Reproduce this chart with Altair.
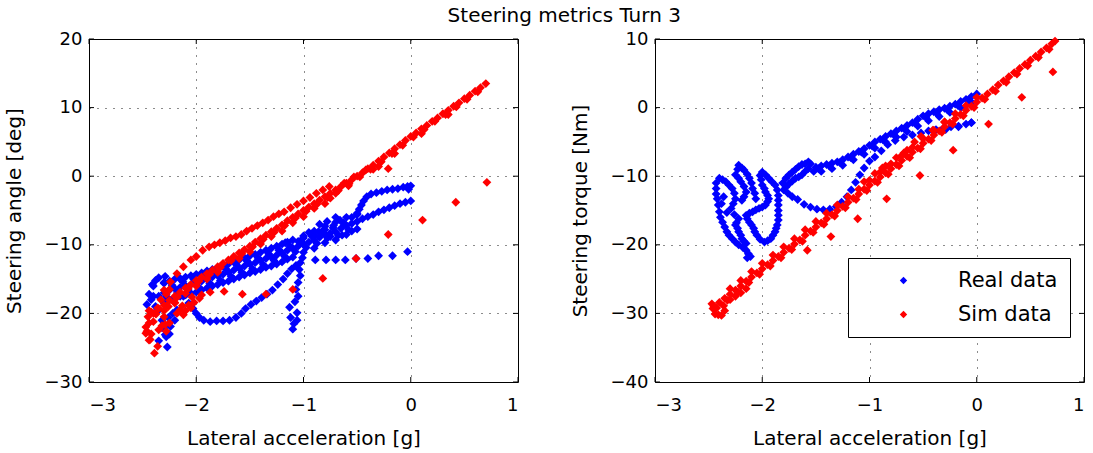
import altair as alt
import pandas as pd

# ---------------- data ----------------
# LEFT panel: steering angle [deg] vs lateral acceleration [g]
left_sim_line = [
    [-2.40, -20.0], [-2.35, -19.3], [-2.30, -18.8], [-2.25, -18.1], [-2.20, -17.5], [-2.15, -16.9],
    [-2.10, -16.3], [-2.05, -15.8], [-2.00, -15.2], [-1.95, -14.7], [-1.90, -14.2], [-1.85, -13.7],
    [-1.80, -13.2], [-1.75, -12.7], [-1.70, -12.2], [-1.65, -11.7], [-1.60, -11.2], [-1.55, -10.7],
    [-1.50, -10.2], [-1.45, -9.6], [-1.40, -9.1], [-1.35, -8.6], [-1.30, -8.1], [-1.25, -7.6],
    [-1.20, -7.1], [-1.15, -6.5], [-1.10, -6.0], [-1.05, -5.5], [-1.00, -5.0], [-0.95, -4.5],
    [-0.90, -4.0], [-0.85, -3.5], [-0.80, -3.0], [-0.75, -2.5], [-0.70, -2.0], [-0.65, -1.5],
    [-0.60, -1.0], [-0.55, -0.5], [-0.50, 0.0], [-0.45, 0.5], [-0.40, 1.1], [-0.35, 1.6],
    [-0.30, 2.2], [-0.25, 2.8], [-0.20, 3.4], [-0.15, 4.0], [-0.10, 4.6], [-0.05, 5.2],
    [0.00, 5.8], [0.05, 6.3], [0.10, 6.9], [0.15, 7.4], [0.20, 8.0], [0.25, 8.5],
    [0.30, 9.1], [0.35, 9.6], [0.40, 10.2], [0.45, 10.7], [0.50, 11.3], [0.55, 11.8],
    [0.60, 12.4], [0.65, 12.9], [0.70, 13.5],
    [-2.20, -18.4], [-2.00, -16.0], [-1.80, -14.0], [-1.60, -12.0], [-1.40, -9.9], [-1.20, -8.0],
    [-1.00, -5.9], [-0.80, -4.0], [-0.62, -1.0], [-0.53, -0.1], [-0.42, 0.9], [-0.70, -2.5],
    [-0.75, -3.2], [-1.10, -6.8], [-1.30, -8.8], [-1.50, -11.0], [-1.90, -15.0], [-2.10, -17.1],
    [-0.90, -4.7], [-0.58, -1.4], [-0.35, 1.0], [-0.15, 3.3], [0.10, 6.2], [0.35, 9.0],
]
left_sim_line_fill = [
    [-2.375, -20.1], [-2.275, -18.9], [-2.175, -17.6], [-2.075, -16.4], [-1.975, -15.3], [-1.875, -14.3],
    [-1.775, -13.3], [-1.675, -12.3], [-1.575, -11.3], [-1.475, -10.3], [-1.375, -9.2], [-1.275, -8.2],
    [-1.175, -7.2], [-1.075, -6.1], [-0.975, -5.1], [-0.875, -4.1], [-0.775, -3.1], [-0.675, -2.1],
    [-0.575, -1.1], [-0.475, -0.1], [-0.375, 1.0], [-0.275, 2.1], [-0.175, 3.3], [-0.075, 4.5],
    [0.025, 5.7], [0.125, 6.8], [0.225, 8.0], [0.325, 9.0], [0.425, 10.1], [0.525, 11.2],
    [0.625, 12.3],
]
left_sim_branch = [
    [-2.30, -16.6], [-2.24, -15.4], [-2.18, -14.2], [-2.12, -13.2], [-2.05, -12.2], [-2.00, -11.7],
    [-1.94, -10.8], [-1.88, -10.3], [-1.83, -10.0], [-1.78, -9.7], [-1.73, -9.4], [-1.68, -9.0],
    [-1.63, -8.8], [-1.58, -8.5], [-1.53, -8.0], [-1.48, -7.6], [-1.43, -7.2], [-1.38, -6.8],
    [-1.33, -6.4], [-1.28, -5.9], [-1.23, -5.5], [-1.18, -5.2], [-1.12, -4.6], [-1.06, -4.1],
    [-1.00, -3.6], [-0.94, -3.1], [-0.88, -2.5], [-0.82, -2.0], [-0.76, -1.5],
]
left_sim_cluster = [
    [-2.47, -22.9], [-2.44, -23.9], [-2.39, -25.8], [-2.36, -24.8], [-2.42, -23.0], [-2.47, -22.0],
    [-2.35, -22.4], [-2.25, -21.4], [-2.38, -20.0], [-2.44, -21.4], [-2.42, -19.8], [-2.45, -20.5],
    [-2.30, -20.5], [-2.32, -21.8], [-2.28, -22.6], [-2.40, -21.2], [-2.36, -19.2], [-2.33, -18.0],
    [-2.28, -17.2], [-2.25, -16.5], [-2.20, -18.5], [-2.15, -19.5], [-2.10, -19.6], [-2.07, -18.8],
    [-2.05, -19.2], [-2.02, -18.4], [-1.97, -17.8], [-1.95, -17.3], [-2.12, -20.2], [-2.18, -20.0],
    [-2.30, -19.6], [-2.26, -19.0], [-2.44, -19.6], [-2.46, -22.6], [-2.43, -23.8], [-2.13, -18.9],
    [-2.04, -17.6], [-2.29, -21.6],
]
left_sim_scatter = [
    [-1.87, -16.9], [-1.74, -16.8], [-1.57, -17.2], [-1.35, -17.2], [-1.10, -16.5], [-0.82, -14.9],
    [-0.51, -12.0], [-0.21, -8.5], [0.11, -6.4], [0.42, -3.8], [0.71, -0.9],
    [-0.30, 1.4], [-0.21, 1.1],
]

left_real_band = [
    [-2.35, -17.5], [-2.30, -17.0], [-2.25, -16.6], [-2.20, -16.4], [-2.15, -16.2], [-2.10, -16.0],
    [-2.05, -15.8], [-2.00, -15.6], [-1.95, -15.3], [-1.90, -15.0], [-1.85, -14.7], [-1.80, -14.5],
    [-1.75, -14.3], [-1.70, -14.0], [-1.65, -13.7], [-1.60, -13.4], [-1.55, -13.1], [-1.50, -12.8],
    [-1.45, -12.6], [-1.40, -12.3], [-1.35, -12.0], [-1.30, -11.8], [-1.25, -11.5], [-1.20, -11.2],
    [-1.15, -10.8], [-1.10, -10.5], [-1.05, -10.2], [-1.00, -9.9], [-0.95, -9.6], [-0.90, -9.3],
    [-0.85, -8.9], [-0.80, -8.5], [-0.75, -8.3], [-0.70, -8.1], [-0.65, -7.6], [-0.60, -7.2],
    [-0.55, -6.9], [-0.50, -6.6], [-0.45, -6.2], [-0.40, -5.9], [-0.35, -5.6], [-0.30, -5.2],
    [-0.25, -4.9], [-0.20, -4.6], [-0.15, -4.3], [-0.10, -4.0], [-0.05, -3.8], [0.00, -3.6],
]
left_real_band_up = [
    [-2.30, -15.6], [-2.20, -15.0], [-2.10, -14.7], [-2.00, -14.3], [-1.90, -13.8], [-1.80, -13.3],
    [-1.70, -12.8], [-1.60, -12.2], [-1.50, -11.6], [-1.40, -11.1], [-1.30, -10.5], [-1.20, -9.9],
    [-1.10, -9.3], [-1.00, -8.7], [-0.90, -8.0], [-0.80, -7.3], [-0.70, -6.7], [-0.60, -6.0],
    [-0.50, -5.6], [-2.41, -15.8], [-2.35, -14.8], [-2.29, -14.6],
    [-2.25, -15.3], [-2.15, -14.9], [-2.05, -14.5], [-1.95, -14.1], [-1.85, -13.6], [-1.75, -13.1],
    [-1.65, -12.5], [-1.55, -11.9], [-1.45, -11.4], [-1.35, -10.8], [-1.25, -10.2], [-1.15, -9.6],
]
left_real_band_mid = [
    [-2.225, -15.9], [-2.125, -15.4], [-2.025, -15.0], [-1.925, -14.5], [-1.825, -14.0], [-1.725, -13.5],
    [-1.625, -12.9], [-1.525, -12.4], [-1.425, -11.9], [-1.325, -11.3], [-1.225, -10.8], [-1.125, -10.2],
    [-1.025, -9.4], [-0.925, -8.7], [-0.825, -8.0], [-0.725, -7.5], [-0.625, -6.8],
    [-2.275, -17.6], [-2.175, -17.0], [-2.075, -16.6], [-1.975, -16.2], [-1.875, -15.6], [-1.775, -15.2],
    [-1.675, -14.6], [-1.575, -14.0], [-1.475, -13.5], [-1.375, -12.9], [-1.275, -12.3], [-1.175, -11.7],
    [-1.075, -11.0], [-0.975, -10.4], [-0.875, -9.8], [-0.775, -9.0], [-0.675, -8.6],
]
left_real_band_low = [
    [-2.30, -18.4], [-2.20, -17.7], [-2.10, -17.3], [-2.00, -16.9], [-1.90, -16.3], [-1.80, -15.8],
    [-1.70, -15.3], [-1.60, -14.7], [-1.50, -14.1], [-1.40, -13.6], [-1.30, -13.1], [-1.20, -12.5],
    [-1.10, -11.8], [-1.00, -11.1], [-0.90, -10.5], [-0.80, -9.7], [-0.70, -9.3], [-0.60, -8.5],
    [-0.50, -7.7], [-2.44, -17.2], [-2.46, -18.7],
    [-2.25, -18.0], [-2.15, -17.5], [-2.05, -17.1], [-1.95, -16.6], [-1.85, -16.0], [-1.75, -15.5],
    [-1.65, -15.0], [-1.55, -14.4], [-1.45, -13.9], [-1.35, -13.3], [-1.25, -12.8], [-1.15, -12.1],
]
left_real_blob = [
    [-0.85, -7.0], [-0.78, -6.6], [-0.70, -6.0], [-0.66, -6.4], [-0.62, -7.0], [-0.58, -7.8],
    [-0.75, -8.8], [-0.90, -8.6], [-1.00, -9.0], [-1.17, -9.7], [-1.23, -10.8], [-0.86, -8.1],
    [-0.95, -8.2], [-0.80, -7.8], [-0.72, -7.2], [-0.64, -8.6], [-0.55, -8.0], [-1.05, -9.5],
]
left_real_loop_up = [
    [-0.55, -6.0], [-0.50, -5.4], [-0.48, -4.8], [-0.46, -4.2], [-0.44, -3.6], [-0.41, -3.0],
    [-0.37, -2.6], [-0.32, -2.4], [-0.27, -2.2], [-0.22, -2.0], [-0.17, -1.9], [-0.12, -1.8],
    [-0.07, -1.6], [-0.03, -1.5], [0.00, -1.4], [-0.02, -1.9],
]
left_real_dotted = [
    [-1.01, -11.9], [-0.89, -12.2], [-0.79, -12.2], [-0.70, -12.2], [-0.61, -12.2], [-0.51, -12.0],
    [-0.40, -12.0], [-0.30, -11.6], [-0.17, -11.6], [-0.03, -11.0],
]
left_real_lower_loop = [
    [-2.12, -17.5], [-2.07, -18.5], [-2.03, -19.3], [-2.00, -20.0], [-1.97, -20.6], [-1.93, -21.0],
    [-1.87, -21.2], [-1.81, -21.1], [-1.75, -21.1], [-1.69, -21.0], [-1.63, -20.6], [-1.58, -20.0],
    [-1.54, -19.3], [-1.49, -18.7], [-1.44, -18.2], [-1.39, -17.7], [-1.34, -17.2], [-1.29, -16.6],
    [-1.24, -15.8], [-1.19, -15.0], [-1.15, -14.2], [-1.11, -13.5], [-1.07, -13.0], [-1.03, -12.6],
]
left_real_tail = [
    [-1.04, -13.6], [-1.03, -14.5], [-1.05, -15.5], [-1.07, -16.5], [-1.05, -17.5], [-1.08, -18.3],
    [-1.13, -19.1], [-1.06, -19.9], [-1.12, -20.6], [-1.09, -21.5], [-1.10, -22.3], [-1.06, -21.0],
]
left_real_cluster = [
    [-2.32, -21.0], [-2.28, -23.4], [-2.27, -24.9], [-2.24, -21.9], [-2.22, -20.0], [-2.25, -23.0],
    [-2.30, -22.2], [-2.26, -20.6], [-2.20, -21.0], [-2.18, -19.5], [-2.38, -19.0], [-2.40, -17.5],
    [-2.40, -16.0], [-2.38, -15.2], [-2.30, -15.5], [-2.15, -15.0], [-2.10, -17.3], [-2.20, -17.8],
    [-2.30, -18.5], [-2.35, -19.5], [-2.42, -18.0], [-2.32, -22.1], [-2.29, -23.1], [-2.35, -24.0],
]

# RIGHT panel: steering torque [Nm] vs lateral acceleration [g]
right_sim_line = [
    [-2.45, -29.0], [-2.40, -28.4], [-2.35, -27.8], [-2.30, -27.2], [-2.25, -26.6], [-2.20, -26.0],
    [-2.15, -25.3], [-2.10, -24.7], [-2.05, -24.1], [-2.00, -23.5], [-1.95, -22.9], [-1.90, -22.3],
    [-1.85, -21.7], [-1.80, -21.1], [-1.75, -20.5], [-1.70, -19.9], [-1.65, -19.3], [-1.60, -18.6],
    [-1.55, -18.0], [-1.50, -17.4], [-1.45, -16.8], [-1.40, -16.2], [-1.35, -15.6], [-1.30, -15.0],
    [-1.25, -14.4], [-1.20, -13.8], [-1.15, -13.2], [-1.10, -12.6], [-1.05, -11.9], [-1.00, -11.3],
    [-0.95, -10.7], [-0.90, -10.1], [-0.85, -9.5], [-0.80, -8.9], [-0.75, -8.3], [-0.70, -7.7],
    [-0.65, -7.1], [-0.60, -6.5], [-0.55, -5.9], [-0.50, -5.2], [-0.45, -4.6], [-0.40, -4.0],
    [-0.35, -3.4], [-0.30, -2.8], [-0.25, -2.2], [-0.20, -1.6], [-0.15, -1.0], [-0.10, -0.4],
    [-0.05, 0.2], [0.00, 0.8], [0.05, 1.4], [0.10, 2.0], [0.15, 2.6], [0.20, 3.3],
    [0.25, 3.9], [0.30, 4.5], [0.35, 5.1], [0.40, 5.7], [0.45, 6.3], [0.50, 6.9],
    [0.55, 7.5], [0.60, 8.1], [0.65, 8.7], [0.70, 9.3], [0.73, 9.7],
    [-2.30, -26.4], [-2.20, -25.2], [-2.10, -23.9], [-2.00, -22.7], [-1.90, -21.5], [-1.80, -20.3],
    [-1.70, -19.1], [-1.60, -17.8], [-1.50, -16.6], [-1.40, -15.4], [-1.30, -14.2], [-1.20, -13.0],
    [-1.10, -11.9], [-1.00, -10.6], [-0.90, -9.4], [-0.80, -8.2], [-0.70, -7.0], [-0.60, -5.8],
    [-0.50, -4.5], [-0.40, -3.3], [-0.30, -2.1], [-0.20, -0.9], [-0.10, 0.3], [0.00, 1.5],
]
right_sim_line_fill = [
    [-2.425, -29.2], [-2.325, -28.1], [-2.225, -26.9], [-2.125, -25.5], [-2.025, -24.3], [-1.925, -23.1],
    [-1.825, -21.9], [-1.725, -20.7], [-1.625, -19.5], [-1.525, -18.2], [-1.425, -17.0], [-1.325, -15.8],
    [-1.225, -14.6], [-1.125, -13.4], [-1.025, -12.1], [-0.925, -10.9], [-0.825, -9.7], [-0.725, -8.5],
    [-0.625, -7.3], [-0.525, -6.0], [-0.425, -4.8], [-0.325, -3.6], [-0.225, -2.4], [-0.125, -1.2],
    [-0.025, 0.0], [0.075, 1.2], [0.175, 2.4], [0.275, 3.7], [0.375, 4.9], [0.475, 6.1],
    [0.575, 7.3], [0.675, 8.5],
]
right_sim_cluster = [
    [-2.44, -30.1], [-2.38, -30.3], [-2.35, -29.6], [-2.46, -29.3], [-2.41, -30.2], [-2.47, -28.6],
    [-2.36, -28.9], [-2.30, -28.0], [-2.25, -27.5], [-2.20, -27.0], [-2.15, -26.4],
]
right_sim_upper = [
    [-1.05, -10.8], [-0.95, -9.6], [-0.88, -8.8], [-0.85, -8.5], [-0.75, -7.3], [-0.68, -6.6],
    [-0.65, -6.2], [-0.58, -5.0], [-0.52, -4.2], [-0.41, -3.3], [-0.30, -2.1],
]
right_sim_scatter = [
    [-1.58, -20.8], [-1.36, -18.8], [-1.11, -16.2], [-0.84, -13.3], [-0.53, -9.9], [-0.22, -6.2],
    [0.11, -2.4], [0.42, 1.5], [0.71, 5.2],
]

right_real_arm = [
    [-1.50, -8.7], [-1.45, -8.5], [-1.40, -8.3], [-1.35, -8.1], [-1.30, -7.9], [-1.25, -7.6],
    [-1.20, -7.2], [-1.15, -6.8], [-1.10, -6.4], [-1.05, -6.0], [-1.00, -5.5], [-0.95, -5.0],
    [-0.90, -4.6], [-0.85, -4.2], [-0.80, -3.8], [-0.75, -3.4], [-0.70, -3.0], [-0.65, -2.6],
    [-0.60, -2.2], [-0.55, -1.7], [-0.50, -1.2], [-0.45, -0.9], [-0.40, -0.6], [-0.35, -0.3],
    [-0.30, -0.1], [-0.25, 0.2], [-0.20, 0.5], [-0.15, 0.9], [-0.10, 1.2], [-0.05, 1.6],
    [0.00, 2.0],
    [-1.45, -9.3], [-1.35, -8.9], [-1.25, -8.4], [-1.15, -7.6], [-1.05, -6.8], [-0.95, -5.9],
    [-0.85, -5.0], [-0.75, -4.3], [-0.65, -3.5], [-0.55, -2.7], [-0.45, -1.9], [-0.35, -1.3],
    [-0.25, -0.7], [-0.15, 0.0], [-0.05, 0.8],
    [-1.475, -8.9], [-1.375, -8.5], [-1.275, -8.0], [-1.175, -7.3], [-1.075, -6.5], [-0.975, -5.6],
    [-0.875, -4.7], [-0.775, -3.9], [-0.675, -3.1], [-0.575, -2.3], [-0.475, -1.4], [-0.375, -0.8],
    [-0.275, -0.3], [-0.175, 0.3], [-0.075, 1.1],
]
right_real_lower = [
    [-1.80, -12.0], [-1.76, -12.5], [-1.72, -13.0], [-1.67, -13.4], [-1.61, -14.1], [-1.55, -14.5],
    [-1.49, -14.8], [-1.43, -14.9], [-1.37, -14.8], [-1.31, -14.4], [-1.26, -13.8], [-1.21, -13.0],
    [-1.17, -12.0], [-1.13, -10.9], [-1.09, -9.8], [-1.05, -8.8], [-1.00, -7.8], [-0.95, -7.2],
    [-0.89, -6.3], [-0.83, -5.4], [-0.76, -4.8], [-0.68, -4.3], [-0.60, -4.0], [-0.52, -3.7],
    [-0.45, -3.4], [-0.38, -3.2], [-0.31, -3.0], [-0.24, -2.8], [-0.17, -2.7], [-0.10, -2.4],
    [-0.05, -2.2],
]
right_real_loops = [
    # outer left lobe
    [-2.40, -10.3], [-2.43, -11.0], [-2.43, -11.8], [-2.43, -12.6], [-2.42, -13.3], [-2.41, -14.2],
    [-2.40, -15.2], [-2.39, -16.0], [-2.37, -16.7], [-2.35, -17.4], [-2.33, -18.1], [-2.31, -18.6],
    [-2.28, -19.1], [-2.25, -19.6], [-2.22, -20.0], [-2.18, -20.4], [-2.15, -20.8], [-2.13, -21.3],
    [-2.11, -21.7], [-2.14, -21.9],
    # inner left lobe
    [-2.37, -10.5], [-2.34, -10.8], [-2.31, -11.3], [-2.28, -11.8], [-2.26, -12.5], [-2.25, -13.3],
    [-2.27, -14.0], [-2.29, -14.7], [-2.33, -15.3], [-2.26, -15.6], [-2.22, -16.2], [-2.24, -16.8],
    [-2.25, -17.1], [-2.23, -17.6], [-2.22, -18.1], [-2.20, -18.6], [-2.19, -19.1], [-2.17, -19.5],
    [-2.15, -19.8], [-2.36, -13.0], [-2.38, -14.0],
    # second finger
    [-2.22, -8.4], [-2.19, -8.8], [-2.17, -9.1], [-2.14, -9.7], [-2.12, -10.3], [-2.10, -11.0],
    [-2.09, -11.8], [-2.07, -12.5], [-2.06, -13.3], [-2.25, -9.8], [-2.22, -10.3], [-2.20, -10.8],
    [-2.17, -11.5], [-2.15, -12.3], [-2.17, -13.0], [-2.19, -13.5], [-2.23, -9.0],
    # centre column
    [-2.00, -9.4], [-1.97, -9.8], [-1.94, -10.3], [-1.91, -10.8], [-1.88, -11.3], [-1.86, -12.0],
    [-1.85, -12.8], [-1.85, -13.5], [-1.85, -14.2], [-1.85, -15.0], [-1.85, -15.7], [-1.85, -16.4],
    [-1.86, -17.1], [-1.87, -17.6], [-1.88, -18.1], [-1.90, -18.6], [-1.92, -19.1], [-1.95, -19.4],
    [-1.98, -19.6], [-2.02, -19.2], [-2.05, -18.6], [-2.07, -18.1], [-2.08, -17.6], [-2.10, -17.1],
    [-2.12, -16.7], [-2.14, -16.2], [-2.15, -15.7], [-2.12, -15.4], [-2.09, -15.2], [-2.06, -14.9],
    [-2.03, -14.7], [-2.00, -14.5], [-1.97, -14.2], [-1.95, -13.7], [-1.94, -13.3], [-1.95, -12.8],
    [-1.97, -12.3], [-1.98, -11.8], [-2.00, -11.3], [-2.01, -10.5], [-2.02, -9.9],
    # upper-right arm
    [-1.81, -11.0], [-1.78, -10.3], [-1.75, -9.8], [-1.72, -9.4], [-1.69, -9.0], [-1.66, -8.6],
    [-1.63, -8.3], [-1.60, -8.2], [-1.57, -7.9], [-1.55, -8.2], [-1.57, -8.9], [-1.60, -9.3],
    [-1.63, -9.8], [-1.66, -10.1], [-1.69, -10.3], [-1.72, -10.7], [-1.75, -11.1], [-1.78, -11.6],
    [-1.52, -9.3],
]
right_real_scatter = [[-0.17, -2.8], [-0.05, -2.2], [-0.29, -3.2]]

SERIES = ["Real data", "Sim data"]
COLORS = ["#0000ff", "#ff0000"]
X_TICKS = [-3, -2, -1, 0, 1]
LEFT_Y_TICKS = [-30, -20, -10, 0, 10, 20]
RIGHT_Y_TICKS = [-40, -30, -20, -10, 0, 10]


def frame(parts, series):
    rows = []
    for part in parts:
        for x, y in part:
            rows.append({"x": x, "y": y, "series": series})
    return rows


left_df = pd.DataFrame(
    frame([left_real_band, left_real_band_up, left_real_band_mid, left_real_band_low, left_real_blob,
           left_real_loop_up, left_real_dotted, left_real_lower_loop, left_real_tail, left_real_cluster],
          "Real data")
    + frame([left_sim_line, left_sim_line_fill, left_sim_branch, left_sim_cluster, left_sim_scatter],
            "Sim data")
)
right_df = pd.DataFrame(
    frame([right_real_arm, right_real_lower, right_real_loops, right_real_scatter], "Real data")
    + frame([right_sim_line, right_sim_line_fill, right_sim_cluster, right_sim_upper, right_sim_scatter],
            "Sim data")
)

FONT = "DejaVu Sans"
W, H = 429, 343
TICK_LEN = 5


def panel(df, ydomain, yticks, ytitle, legend):
    xs = alt.Scale(domain=[-3, 1], nice=False, zero=False)
    ys = alt.Scale(domain=ydomain, nice=False, zero=False)
    points = alt.Chart(df).mark_point(shape="diamond", filled=True, size=78, opacity=1).encode(
        x=alt.X("x:Q", scale=xs,
                axis=alt.Axis(values=X_TICKS, title="Lateral acceleration [g]", format="d")),
        y=alt.Y("y:Q", scale=ys,
                axis=alt.Axis(values=yticks, title=ytitle, format="d")),
        color=alt.Color("series:N", scale=alt.Scale(domain=SERIES, range=COLORS), legend=legend),
    )
    xt = pd.DataFrame({"x": X_TICKS})
    yt = pd.DataFrame({"y": yticks})
    tick = dict(color="#000", strokeWidth=1)
    xb = alt.Chart(xt).mark_rule(**tick).encode(
        x=alt.X("x:Q", scale=xs), y=alt.value(H), y2=alt.value(H - TICK_LEN))
    xtop = alt.Chart(xt).mark_rule(**tick).encode(
        x=alt.X("x:Q", scale=xs), y=alt.value(0), y2=alt.value(TICK_LEN))
    yl = alt.Chart(yt).mark_rule(**tick).encode(
        y=alt.Y("y:Q", scale=ys), x=alt.value(0), x2=alt.value(TICK_LEN))
    yr = alt.Chart(yt).mark_rule(**tick).encode(
        y=alt.Y("y:Q", scale=ys), x=alt.value(W), x2=alt.value(W - TICK_LEN))
    return alt.layer(points, xb, xtop, yl, yr).properties(width=W, height=H)


legend = alt.Legend(
    title=None, orient="none", legendX=193, legendY=219,
    strokeColor="#000", fillColor="#fff", padding=12,
    symbolType="diamond", symbolSize=55, symbolOffset=33, labelOffset=44,
    labelFont=FONT, labelFontSize=21, labelColor="#000", rowPadding=12,
    symbolStrokeWidth=0,
)

left = panel(left_df, [-30, 20], LEFT_Y_TICKS, "Steering angle [deg]", None)
right = panel(right_df, [-40, 10], RIGHT_Y_TICKS, "Steering torque [Nm]", legend)

chart = alt.hconcat(left, right, spacing=50).resolve_scale(color="independent").resolve_legend(
    color="independent"
).properties(
    title=alt.TitleParams("Steering metrics Turn 3", font=FONT, fontSize=20, fontWeight="normal",
                          color="#000", anchor="middle", dx=20, offset=4),
    padding={"left": 3, "top": 5, "right": 5, "bottom": 5},
    background="#ffffff",
).configure_axis(
    labelFont=FONT, labelFontSize=18, labelColor="#000", labelPadding=7,
    titleFont=FONT, titleFontSize=20, titleFontWeight="normal", titleColor="#000",
    grid=True, gridColor="#000", gridDash=[1, 7], gridOpacity=0.9, gridWidth=1,
    domain=False, ticks=False,
).configure_axisY(titlePadding=20).configure_axisX(titlePadding=14, labelPadding=14).configure_view(
    stroke="#000", strokeWidth=1
)

chart.save("out.html", embed_options={"renderer": "svg", "actions": False})
